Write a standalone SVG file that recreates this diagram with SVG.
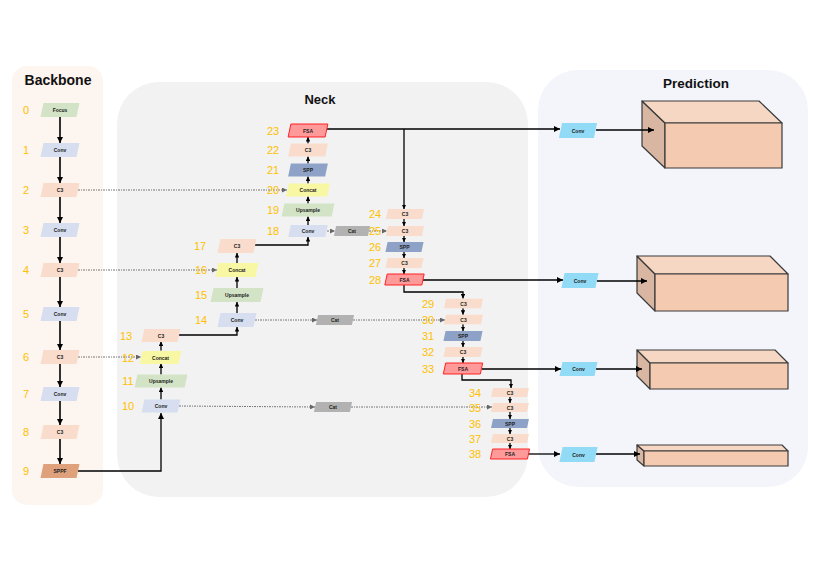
<svg xmlns="http://www.w3.org/2000/svg" width="830" height="587" viewBox="0 0 830 587">
<style>
.t{font-family:"Liberation Sans",Arial,sans-serif;font-size:5px;font-weight:bold;fill:#222;text-anchor:middle;dominant-baseline:central}
.num{font-family:"Liberation Sans",Arial,sans-serif;font-size:11px;fill:#ffc000;text-anchor:middle;dominant-baseline:central}
.title{font-family:"Liberation Sans",Arial,sans-serif;font-weight:bold;fill:#111;text-anchor:middle}
.green{fill:#d3e4c6}
.blue{fill:#d6deef}
.peach{fill:#f9dccb}
.sppf{fill:#dea17c}
.yellow{fill:#f8f8a4}
.spp{fill:#8ea2c8}
.fsa{fill:#ff9a9a;stroke:#ff1a1a;stroke-width:0.9}
.cat{fill:#b2b2b2}
.pconv{fill:#92dbf6}
.ln{fill:none;stroke:#000;stroke-width:1.3}
.bl{fill:none;stroke:#000;stroke-width:1.6}
.dl{fill:none;stroke:#666;stroke-width:0.9;stroke-dasharray:2 1 1 1}
.front{fill:#f4cbb0;stroke:#3a3a3a;stroke-width:1.2;stroke-linejoin:round}
.top{fill:#f6d7c3;stroke:#3a3a3a;stroke-width:1.2;stroke-linejoin:round}
.left{fill:#d8b6a2;stroke:#3a3a3a;stroke-width:1.2;stroke-linejoin:round}
</style>
<defs>
<marker id="ah" markerUnits="userSpaceOnUse" markerWidth="6" markerHeight="6" refX="6" refY="3" orient="auto"><path d="M0,0 L6,3 L0,6 z" fill="#000"/></marker>
<marker id="ahs" markerUnits="userSpaceOnUse" markerWidth="4.5" markerHeight="4.5" refX="4.5" refY="2.25" orient="auto"><path d="M0,0 L4.5,2.25 L0,4.5 z" fill="#000"/></marker>
<marker id="ahg" markerUnits="userSpaceOnUse" markerWidth="5" markerHeight="5" refX="5" refY="2.5" orient="auto"><path d="M0,0 L5,2.5 L0,5 z" fill="#666"/></marker>
</defs>

<g id="panels">
<rect x="12" y="66" width="91" height="439" rx="15" fill="#fdf5ef"/>
<rect x="117" y="82" width="411" height="415" rx="42" fill="#f2f2f2"/>
<rect x="538" y="70" width="270" height="417" rx="40" fill="#f3f5fa"/>
<text class="title" x="58" y="85" font-size="14">Backbone</text>
<text class="title" x="320" y="104" font-size="13">Neck</text>
<text class="title" x="696" y="88" font-size="13.5">Prediction</text>
</g>

<g id="box1">
<polygon class="left" points="642,101 665,123 665,168 642,146"/>
<polygon class="top" points="642,101 759,101 782,123 665,123"/>
<rect class="front" x="665" y="123" width="117" height="45"/>
</g>
<g id="box2">
<polygon class="left" points="637,256 655,274 655,311 637,293"/>
<polygon class="top" points="637,256 770,256 788,274 655,274"/>
<rect class="front" x="655" y="274" width="133" height="37"/>
</g>
<g id="box3">
<polygon class="left" points="637,350 650,363 650,389 637,376"/>
<polygon class="top" points="637,350 775,350 788,363 650,363"/>
<rect class="front" x="650" y="363" width="138" height="26"/>
</g>
<g id="box4">
<polygon class="left" points="637,445 644,451 644,466 637,460"/>
<polygon class="top" points="637,445 782,445 788,451 644,451"/>
<rect class="front" x="644" y="451" width="144" height="15"/>
</g>

<g id="connectors">
<!-- backbone -->
<line class="bl" x1="60" y1="117" x2="60" y2="143" marker-end="url(#ah)"/>
<line class="bl" x1="60" y1="157" x2="60" y2="183" marker-end="url(#ah)"/>
<line class="bl" x1="60" y1="197" x2="60" y2="223" marker-end="url(#ah)"/>
<line class="bl" x1="60" y1="237" x2="60" y2="263" marker-end="url(#ah)"/>
<line class="bl" x1="60" y1="277" x2="60" y2="307" marker-end="url(#ah)"/>
<line class="bl" x1="60" y1="321" x2="60" y2="350" marker-end="url(#ah)"/>
<line class="bl" x1="60" y1="364" x2="60" y2="387" marker-end="url(#ah)"/>
<line class="bl" x1="60" y1="401" x2="60" y2="425" marker-end="url(#ah)"/>
<line class="bl" x1="60" y1="439" x2="60" y2="464" marker-end="url(#ah)"/>
<!-- dotted skip links -->
<line class="dl" x1="78" y1="190" x2="287" y2="190" marker-end="url(#ahg)"/>
<line class="dl" x1="78" y1="270" x2="217" y2="270" marker-end="url(#ahg)"/>
<line class="dl" x1="78" y1="357" x2="141" y2="357" marker-end="url(#ahg)"/>
<line class="dl" x1="327" y1="231" x2="335" y2="231" marker-end="url(#ahg)"/>
<line class="dl" x1="369" y1="231" x2="387" y2="231" marker-end="url(#ahg)"/>
<line class="dl" x1="255" y1="320" x2="317" y2="320" marker-end="url(#ahg)"/>
<line class="dl" x1="353" y1="320" x2="445" y2="320" marker-end="url(#ahg)"/>
<line class="dl" x1="179" y1="406" x2="315" y2="407" marker-end="url(#ahg)"/>
<line class="dl" x1="351" y1="407" x2="492" y2="407" marker-end="url(#ahg)"/>
<!-- neck solid -->
<polyline class="ln" points="78,471 161,471 161,413" marker-end="url(#ah)"/>
<line class="ln" x1="161" y1="399.5" x2="161" y2="387.5" marker-end="url(#ahs)"/>
<line class="ln" x1="161" y1="374.5" x2="161" y2="363.5" marker-end="url(#ahs)"/>
<line class="ln" x1="161" y1="350.5" x2="161" y2="341.5" marker-end="url(#ahs)"/>
<polyline class="ln" points="179,335 237,335 237,327" marker-end="url(#ahs)"/>
<line class="ln" x1="237" y1="313" x2="237" y2="302" marker-end="url(#ahs)"/>
<line class="ln" x1="237" y1="288" x2="237" y2="277" marker-end="url(#ahs)"/>
<line class="ln" x1="237" y1="263" x2="237" y2="253" marker-end="url(#ahs)"/>
<polyline class="ln" points="255,245 308,245 308,237" marker-end="url(#ahs)"/>
<line class="ln" x1="308" y1="225" x2="308" y2="216.5" marker-end="url(#ahs)"/>
<line class="ln" x1="308" y1="203.5" x2="308" y2="196.5" marker-end="url(#ahs)"/>
<line class="ln" x1="308" y1="183.5" x2="308" y2="176.5" marker-end="url(#ahs)"/>
<line class="ln" x1="308" y1="163.5" x2="308" y2="156.5" marker-end="url(#ahs)"/>
<line class="ln" x1="308" y1="143.5" x2="308" y2="137" marker-end="url(#ahs)"/>
<line class="ln" x1="327" y1="129" x2="560" y2="129" marker-end="url(#ah)"/>
<line class="ln" x1="404" y1="129" x2="404" y2="209" marker-end="url(#ahs)"/>
<line class="ln" x1="404" y1="219" x2="404" y2="226" marker-end="url(#ahs)"/>
<line class="ln" x1="404" y1="236" x2="404" y2="242" marker-end="url(#ahs)"/>
<line class="ln" x1="404" y1="252" x2="404" y2="258" marker-end="url(#ahs)"/>
<line class="ln" x1="404" y1="268" x2="404" y2="274" marker-end="url(#ahs)"/>
<line class="ln" x1="423" y1="280" x2="563" y2="280" marker-end="url(#ah)"/>
<polyline class="ln" points="404,285 404,292 463,292 463,298.5" marker-end="url(#ahs)"/>
<line class="ln" x1="463" y1="308.3" x2="463" y2="314.7" marker-end="url(#ahs)"/>
<line class="ln" x1="463" y1="324.3" x2="463" y2="331" marker-end="url(#ahs)"/>
<line class="ln" x1="463" y1="341" x2="463" y2="347" marker-end="url(#ahs)"/>
<line class="ln" x1="463" y1="357" x2="463" y2="363" marker-end="url(#ahs)"/>
<line class="ln" x1="482" y1="369" x2="561" y2="369" marker-end="url(#ah)"/>
<polyline class="ln" points="462,374 462,380 511,380 511,388" marker-end="url(#ahs)"/>
<line class="ln" x1="510" y1="397" x2="510" y2="403" marker-end="url(#ahs)"/>
<line class="ln" x1="510" y1="412" x2="510" y2="419" marker-end="url(#ahs)"/>
<line class="ln" x1="510" y1="428" x2="510" y2="434" marker-end="url(#ahs)"/>
<line class="ln" x1="510" y1="443" x2="510" y2="449" marker-end="url(#ahs)"/>
<line class="ln" x1="528" y1="454" x2="560" y2="454" marker-end="url(#ah)"/>
<!-- prediction -->
<line class="ln" x1="596" y1="130" x2="654" y2="130" marker-end="url(#ah)"/>
<line class="ln" x1="597" y1="281" x2="647" y2="281" marker-end="url(#ah)"/>
<line class="ln" x1="596" y1="369" x2="642" y2="369" marker-end="url(#ah)"/>
<line class="ln" x1="596" y1="454" x2="640" y2="454" marker-end="url(#ah)"/>
</g>

<!-- Backbone nodes -->
<g id="n0" transform="translate(60,110)"><rect class="green" x="-18" y="-7" width="36" height="14" transform="skewX(-12)"/><text class="t">Focus</text><text class="num" x="-34">0</text></g>
<g id="n1" transform="translate(60,150)"><rect class="blue" x="-18" y="-7" width="36" height="14" transform="skewX(-12)"/><text class="t">Conv</text><text class="num" x="-34">1</text></g>
<g id="n2" transform="translate(60,190)"><rect class="peach" x="-18" y="-7" width="36" height="14" transform="skewX(-12)"/><text class="t">C3</text><text class="num" x="-34">2</text></g>
<g id="n3" transform="translate(60,230)"><rect class="blue" x="-18" y="-7" width="36" height="14" transform="skewX(-12)"/><text class="t">Conv</text><text class="num" x="-34">3</text></g>
<g id="n4" transform="translate(60,270)"><rect class="peach" x="-18" y="-7" width="36" height="14" transform="skewX(-12)"/><text class="t">C3</text><text class="num" x="-34">4</text></g>
<g id="n5" transform="translate(60,314)"><rect class="blue" x="-18" y="-7" width="36" height="14" transform="skewX(-12)"/><text class="t">Conv</text><text class="num" x="-34">5</text></g>
<g id="n6" transform="translate(60,357)"><rect class="peach" x="-18" y="-7" width="36" height="14" transform="skewX(-12)"/><text class="t">C3</text><text class="num" x="-34">6</text></g>
<g id="n7" transform="translate(60,394)"><rect class="blue" x="-18" y="-7" width="36" height="14" transform="skewX(-12)"/><text class="t">Conv</text><text class="num" x="-34">7</text></g>
<g id="n8" transform="translate(60,432)"><rect class="peach" x="-18" y="-7" width="36" height="14" transform="skewX(-12)"/><text class="t">C3</text><text class="num" x="-34">8</text></g>
<g id="n9" transform="translate(60,471)"><rect class="sppf" x="-18" y="-7" width="36" height="14" transform="skewX(-12)"/><text class="t">SPPF</text><text class="num" x="-34">9</text></g>

<!-- Neck nodes -->
<g id="n10" transform="translate(161,406)"><rect class="blue" x="-18" y="-6.5" width="36" height="13" transform="skewX(-12)"/><text class="t">Conv</text><text class="num" x="-33">10</text></g>
<g id="n11" transform="translate(161,381)"><rect class="green" x="-25" y="-6.5" width="50" height="13" transform="skewX(-12)"/><text class="t">Upsample</text><text class="num" x="-33">11</text></g>
<g id="n12" transform="translate(160.5,357.5)"><rect class="yellow" x="-19.5" y="-6.5" width="39" height="13" transform="skewX(-12)"/><text class="t">Concat</text><text class="num" x="-32.5">12</text></g>
<g id="n13" transform="translate(161,335.5)"><rect class="peach" x="-18" y="-6.5" width="36" height="13" transform="skewX(-12)"/><text class="t">C3</text><text class="num" x="-35">13</text></g>
<g id="n14" transform="translate(237,320)"><rect class="blue" x="-18" y="-7" width="36" height="14" transform="skewX(-12)"/><text class="t">Conv</text><text class="num" x="-36">14</text></g>
<g id="n15" transform="translate(237,295)"><rect class="green" x="-25" y="-7" width="50" height="14" transform="skewX(-12)"/><text class="t">Upsample</text><text class="num" x="-36">15</text></g>
<g id="n16" transform="translate(237,270)"><rect class="yellow" x="-20" y="-7" width="40" height="14" transform="skewX(-12)"/><text class="t">Concat</text><text class="num" x="-36">16</text></g>
<g id="n17" transform="translate(237,246)"><rect class="peach" x="-18" y="-7" width="36" height="14" transform="skewX(-12)"/><text class="t">C3</text><text class="num" x="-37">17</text></g>
<g id="n18" transform="translate(308,231)"><rect class="blue" x="-18.5" y="-6" width="37" height="12" transform="skewX(-12)"/><text class="t">Conv</text><text class="num" x="-35">18</text></g>
<g id="n19" transform="translate(308,210)"><rect class="green" x="-25" y="-6.5" width="50" height="13" transform="skewX(-12)"/><text class="t">Upsample</text><text class="num" x="-35">19</text></g>
<g id="n20" transform="translate(308,190)"><rect class="yellow" x="-20.5" y="-6.5" width="41" height="13" transform="skewX(-12)"/><text class="t">Concat</text><text class="num" x="-35">20</text></g>
<g id="n21" transform="translate(308,170)"><rect class="spp" x="-18.5" y="-6.5" width="37" height="13" transform="skewX(-12)"/><text class="t">SPP</text><text class="num" x="-35">21</text></g>
<g id="n22" transform="translate(308,150)"><rect class="peach" x="-18.5" y="-6.5" width="37" height="13" transform="skewX(-12)"/><text class="t">C3</text><text class="num" x="-35">22</text></g>
<g id="n23" transform="translate(308,130.5)"><rect class="fsa" x="-18.5" y="-6.5" width="37" height="13" transform="skewX(-12)"/><text class="t">FSA</text><text class="num" x="-35">23</text></g>
<g id="cat18" transform="translate(352,231)"><rect class="cat" x="-17" y="-5" width="34" height="10" transform="skewX(-12)"/><text class="t">Cat</text></g>
<g id="cat14" transform="translate(335,320)"><rect class="cat" x="-18" y="-5" width="36" height="10" transform="skewX(-12)"/><text class="t">Cat</text></g>
<g id="cat10" transform="translate(333,407)"><rect class="cat" x="-18" y="-5" width="36" height="10" transform="skewX(-12)"/><text class="t">Cat</text></g>

<g id="n24" transform="translate(405,214)"><rect class="peach" x="-18" y="-5" width="36" height="10" transform="skewX(-12)"/><text class="t">C3</text><text class="num" x="-30">24</text></g>
<g id="n25" transform="translate(405,231)"><rect class="peach" x="-18" y="-5" width="36" height="10" transform="skewX(-12)"/><text class="t">C3</text><text class="num" x="-30">25</text></g>
<g id="n26" transform="translate(404.5,247)"><rect class="spp" x="-18" y="-5" width="36" height="10" transform="skewX(-12)"/><text class="t">SPP</text><text class="num" x="-29.5">26</text></g>
<g id="n27" transform="translate(404.5,263)"><rect class="peach" x="-18" y="-5" width="36" height="10" transform="skewX(-12)"/><text class="t">C3</text><text class="num" x="-29.5">27</text></g>
<g id="n28" transform="translate(404.5,279.5)"><rect class="fsa" x="-18.5" y="-5.5" width="37" height="11" transform="skewX(-12)"/><text class="t">FSA</text><text class="num" x="-29.5">28</text></g>

<g id="n29" transform="translate(463.5,303.5)"><rect class="peach" x="-18.5" y="-4.8" width="37" height="9.6" transform="skewX(-12)"/><text class="t">C3</text><text class="num" x="-35.5">29</text></g>
<g id="n30" transform="translate(463.5,319.5)"><rect class="peach" x="-18.5" y="-4.8" width="37" height="9.6" transform="skewX(-12)"/><text class="t">C3</text><text class="num" x="-35.5">30</text></g>
<g id="n31" transform="translate(463,336)"><rect class="spp" x="-18.5" y="-5" width="37" height="10" transform="skewX(-12)"/><text class="t">SPP</text><text class="num" x="-35">31</text></g>
<g id="n32" transform="translate(463,352)"><rect class="peach" x="-18.5" y="-5" width="37" height="10" transform="skewX(-12)"/><text class="t">C3</text><text class="num" x="-35">32</text></g>
<g id="n33" transform="translate(463,368.5)"><rect class="fsa" x="-18.5" y="-5.5" width="37" height="11" transform="skewX(-12)"/><text class="t">FSA</text><text class="num" x="-35">33</text></g>

<g id="n34" transform="translate(510,392.5)"><rect class="peach" x="-18" y="-4.5" width="36" height="9" transform="skewX(-12)"/><text class="t">C3</text><text class="num" x="-35">34</text></g>
<g id="n35" transform="translate(510,407.5)"><rect class="peach" x="-18" y="-4.5" width="36" height="9" transform="skewX(-12)"/><text class="t">C3</text><text class="num" x="-35">35</text></g>
<g id="n36" transform="translate(510,423.5)"><rect class="spp" x="-18" y="-4.5" width="36" height="9" transform="skewX(-12)"/><text class="t">SPP</text><text class="num" x="-35">36</text></g>
<g id="n37" transform="translate(510,438.5)"><rect class="peach" x="-18" y="-4.5" width="36" height="9" transform="skewX(-12)"/><text class="t">C3</text><text class="num" x="-35">37</text></g>
<g id="n38" transform="translate(510,454)"><rect class="fsa" x="-18.5" y="-5" width="37" height="10" transform="skewX(-12)"/><text class="t">FSA</text><text class="num" x="-35">38</text></g>

<!-- Prediction -->
<g id="pconv1" transform="translate(578,130.5)"><rect class="pconv" x="-17.5" y="-7.5" width="35" height="15" transform="skewX(-12)"/><text class="t" font-weight="normal">Conv</text></g>
<g id="pconv2" transform="translate(580,280.5)"><rect class="pconv" x="-17" y="-7.5" width="34" height="15" transform="skewX(-12)"/><text class="t" font-weight="normal">Conv</text></g>
<g id="pconv3" transform="translate(578.5,369)"><rect class="pconv" x="-17.5" y="-7" width="35" height="14" transform="skewX(-12)"/><text class="t" font-weight="normal">Conv</text></g>
<g id="pconv4" transform="translate(578.5,454.5)"><rect class="pconv" x="-17.5" y="-7.5" width="35" height="15" transform="skewX(-12)"/><text class="t" font-weight="normal">Conv</text></g>
</svg>
